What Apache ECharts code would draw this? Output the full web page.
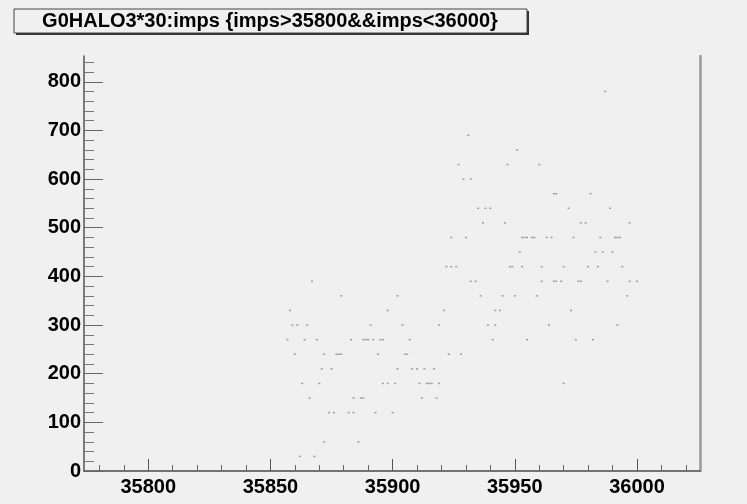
<!DOCTYPE html>
<html>
<head>
<meta charset="utf-8">
<script src="https://cdn.jsdelivr.net/npm/echarts@6/dist/echarts.min.js"></script>
<style>
html, body { margin: 0; padding: 0; background: #f0f0f0; }
#chart { width: 747px; height: 504px; }
</style>
</head>
<body>
<div id="chart"></div>
<script>
const titleText = 'G0HALO3*30:imps {imps>35800&&imps<36000}'
const xTickLabels = [35800, 35850, 35900, 35950, 36000]
const yTickLabels = [0, 100, 200, 300, 400, 500, 600, 700, 800]

// G0HALO3*30 comes in steps of 30, so keep the imps values per level
const levels = [30, 60, 120, 150, 180, 210, 240, 270, 300, 330, 360, 390, 420, 450, 480, 510, 540, 570, 600, 630, 660, 690, 780]
const impsByLevel = [
  [35862, 35868],
  [35872, 35886],
  [35874, 35876, 35882, 35884, 35893, 35900],
  [35866, 35884, 35887, 35888, 35912, 35918],
  [35863, 35870, 35896, 35898, 35901, 35911, 35914, 35915, 35916, 35919, 35970],
  [35871, 35875, 35902, 35908, 35910, 35913, 35917],
  [35860, 35872, 35877, 35878, 35879, 35894, 35905, 35906, 35923, 35928],
  [35857, 35864, 35869, 35883, 35888, 35889, 35890, 35892, 35895, 35896, 35907, 35941, 35955, 35975, 35982],
  [35859, 35861, 35865, 35891, 35904, 35919, 35939, 35942, 35964, 35992],
  [35858, 35898, 35921, 35942, 35944, 35973],
  [35879, 35902, 35936, 35945, 35950, 35959, 35996],
  [35867, 35932, 35934, 35961, 35966, 35967, 35969, 35976, 35977, 35988, 35997, 36000],
  [35922, 35924, 35926, 35948, 35949, 35953, 35961, 35970, 35980, 35984, 35994],
  [35952, 35983, 35986, 35990],
  [35924, 35930, 35953, 35954, 35955, 35957, 35958, 35963, 35965, 35974, 35985, 35991, 35992, 35993],
  [35937, 35946, 35977, 35979, 35997],
  [35935, 35938, 35940, 35972, 35989],
  [35966, 35967, 35981],
  [35929, 35932],
  [35927, 35947, 35960],
  [35951],
  [35931],
  [35987]
]

const xMin = 35773.7, xMax = 36025.8
const yMin = 0, yMax = 853

const points = []
levels.forEach((lv, i) => {
  impsByLevel[i].forEach(x => points.push([x, lv]))
})

// minor ticks: every 10 on x, every 20 on y
const xMinor = []
for (let v = 35780; v <= 36020; v += 10) if (v % 50 !== 0) xMinor.push(v)
const yMinor = []
for (let v = 20; v <= 840; v += 20) if (v % 100 !== 0) yMinor.push(v)

const font = 'Liberation Sans, Arial, Helvetica, sans-serif'
const labelStyle = { color: '#000', fontFamily: font, fontSize: 20, fontWeight: 'bold' }

const chart = echarts.init(document.getElementById('chart'), null, { renderer: 'canvas' })
chart.setOption({
  animation: false,
  backgroundColor: '#f0f0f0',
  grid: { left: 84, top: 56, right: 47, bottom: 33, containLabel: false },
  graphic: [
    { type: 'rect', shape: { x: 16, y: 11, width: 513, height: 24 }, style: { fill: '#333' }, z: 10 },
    { type: 'rect', shape: { x: 14, y: 9, width: 513, height: 24 }, style: { fill: '#f0f0f0', stroke: '#444', lineWidth: 1 }, z: 11 },
    { type: 'text', x: 270, y: 21, z: 12,
      style: { text: titleText, align: 'center', verticalAlign: 'middle', fill: '#000', font: 'bold 20px ' + font } }
  ],
  xAxis: [
    {
      type: 'value', min: xMin, max: xMax, position: 'bottom',
      axisLine: { lineStyle: { color: '#444', width: 1.5 } },
      axisTick: { inside: true, length: 12, customValues: xTickLabels, lineStyle: { color: '#555' } },
      axisLabel: Object.assign({ customValues: xTickLabels, margin: 6, formatter: v => String(v) }, labelStyle),
      splitLine: { show: false }
    },
    {
      type: 'value', min: xMin, max: xMax, position: 'bottom',
      axisLine: { show: false },
      axisTick: { inside: true, length: 6, customValues: xMinor, lineStyle: { color: '#666' } },
      axisLabel: { show: false },
      splitLine: { show: false }
    },
    {
      type: 'value', min: xMin, max: xMax, position: 'top',
      axisLine: { lineStyle: { color: '#777', width: 1.5 } },
      axisTick: { show: false }, axisLabel: { show: false }, splitLine: { show: false }
    }
  ],
  yAxis: [
    {
      type: 'value', min: yMin, max: yMax, position: 'left',
      axisLine: { lineStyle: { color: '#555', width: 1.5 } },
      axisTick: { inside: true, length: 19, customValues: yTickLabels, lineStyle: { color: '#666' } },
      axisLabel: Object.assign({ customValues: yTickLabels, margin: 3, formatter: v => String(v) }, labelStyle),
      splitLine: { show: false }
    },
    {
      type: 'value', min: yMin, max: yMax, position: 'left',
      axisLine: { show: false },
      axisTick: { inside: true, length: 10, customValues: yMinor, lineStyle: { color: '#777' } },
      axisLabel: { show: false },
      splitLine: { show: false }
    },
    {
      type: 'value', min: yMin, max: yMax, position: 'right',
      axisLine: { lineStyle: { color: '#999', width: 2.5 } },
      axisTick: { show: false }, axisLabel: { show: false }, splitLine: { show: false }
    }
  ],
  series: [{
    type: 'scatter',
    xAxisIndex: 0,
    yAxisIndex: 0,
    symbol: 'rect',
    symbolSize: [2, 1.5],
    itemStyle: { color: '#888' },
    silent: true,
    data: points
  }]
})
</script>
</body>
</html>
